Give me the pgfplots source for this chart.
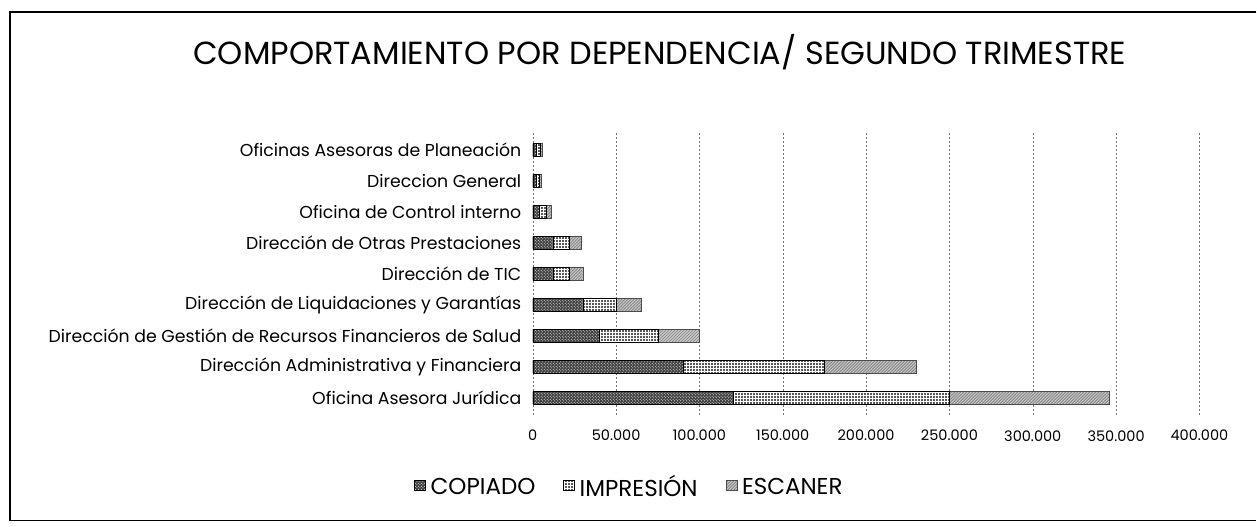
\documentclass[border=0pt]{standalone}
\usepackage{pgfplots}
\pgfplotsset{compat=1.18}
\usepackage{fontspec}
\setmainfont{Poppins}
\usetikzlibrary{patterns}
\begin{document}
\begin{tikzpicture}[x=1pt,y=1pt]
\path (0,0) rectangle (1257,527);
\draw[line width=1.2pt] (1257,515) -- (10,515) -- (10,6) -- (1257,6);
\node[font=\fontsize{32}{35}\selectfont] at (660,475) {COMPORTAMIENTO POR DEPENDENCIA/ SEGUNDO TRIMESTRE};
\begin{axis}[
  at={(533pt,112pt)}, anchor=south west,
  scale only axis, width=667pt, height=282pt,
  xbar stacked, bar width=13pt,
  xmin=0, xmax=400000, ymin=-0.55, ymax=8.55,
  scaled x ticks=false,
  xtick={0,50000,100000,150000,200000,250000,300000,350000,400000},
  xticklabels={0,50.000,100.000,150.000,200.000,250.000,300.000,350.000,400.000},
  ytick={0,...,8},
  yticklabels={Oficina Asesora  Jurídica,Dirección Administrativa y Financiera,Dirección de  Gestión de Recursos Financieros de Salud,Dirección de Liquidaciones y Garantías,Dirección de TIC,Dirección de Otras Prestaciones,Oficina de Control interno,Direccion General,Oficinas Asesoras de Planeación},
  yticklabel style={font=\fontsize{17.3}{19}\selectfont, xshift=-8pt},
  xticklabel style={font=\fontsize{14.5}{16}\selectfont, yshift=-12pt},
  major tick length=0pt,
  axis line style={draw=none},
  xmajorgrids, major x grid style={black!55, dash pattern=on 2pt off 2pt},
  legend columns=3,
  legend style={at={(0.145,-0.255)}, anchor=center, draw=none, font=\fontsize{23}{25}\selectfont, /tikz/every even column/.append style={column sep=26pt}, /tikz/every odd column/.append style={column sep=3pt}},
  legend image code/.code={\draw[#1] (0pt,-4pt) rectangle (11pt,6pt);},
]
\addplot[fill=black!75, draw=black, postaction={pattern=crosshatch dots, pattern color=white}] coordinates {
(120000,0) (90000,1) (40000,2) (30000,3) (12000,4) (12000,5) (4000,6) (2000,7) (2000,8)};
\addlegendentry{COPIADO}
\addplot[fill=black!65, draw=black, postaction={pattern=grid, pattern color=white}] coordinates {
(130000,0) (85000,1) (35000,2) (20000,3) (10000,4) (10000,5) (4000,6) (2000,7) (2500,8)};
\addlegendentry{IMPRESIÓN}
\addplot[fill=black!45, draw=black!70, postaction={pattern=north east lines, pattern color=white}] coordinates {
(96000,0) (55000,1) (25000,2) (15000,3) (8000,4) (7000,5) (3000,6) (1000,7) (1000,8)};
\addlegendentry{ESCANER}
\end{axis}
\end{tikzpicture}
\end{document}
